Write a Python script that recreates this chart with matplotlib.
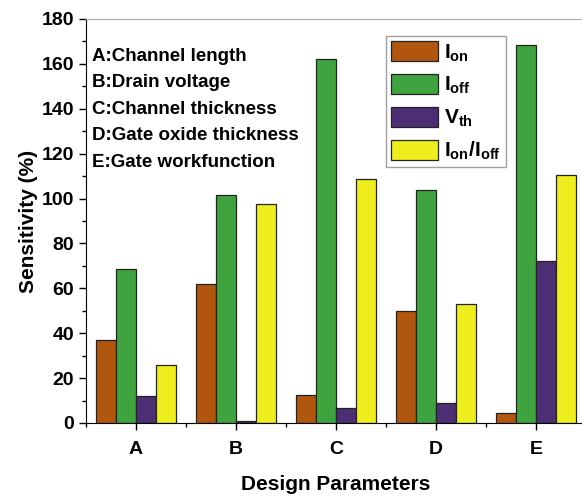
import numpy as np
import matplotlib.pyplot as plt
from matplotlib.ticker import MultipleLocator

plt.rcParams['font.family'] = 'Liberation Sans'
plt.rcParams['font.weight'] = 'bold'
plt.rcParams['mathtext.fontset'] = 'custom'
plt.rcParams['mathtext.rm'] = 'Liberation Sans:bold'
plt.rcParams['mathtext.it'] = 'Liberation Sans:bold'
plt.rcParams['mathtext.bf'] = 'Liberation Sans:bold'

categories = ['A', 'B', 'C', 'D', 'E']
i_on = [37, 62, 12.5, 50, 4.5]
i_off = [68.5, 101.5, 162, 104, 168.5]
v_th = [12, 0.8, 6.5, 9, 72]
on_off = [26, 97.5, 108.5, 53, 110.5]

series = [i_on, i_off, v_th, on_off]
labels = [r'I$_{\mathrm{on}}$', r'I$_{\mathrm{off}}$', r'V$_{\mathrm{th}}$',
          r'I$_{\mathrm{on}}$/I$_{\mathrm{off}}$']
colors = ['#b0560f', '#3fa33f', '#4d2e75', '#eeee1e']

fig = plt.figure(figsize=(5.82, 4.96), dpi=100)
ax = fig.add_axes([0.1478, 0.1472, 0.859, 0.8145])

x = np.arange(1, len(categories) + 1)
w = 0.2
for k, (vals, lab, col) in enumerate(zip(series, labels, colors)):
    ax.bar(x + (k - 1.5) * w, vals, w, color=col, edgecolor='#222222',
           linewidth=0.9, label=lab)

ax.set_xlim(0.5, 5.5)
ax.set_ylim(0, 180)
ax.set_xticks(x)
ax.set_xticklabels(categories)
ax.xaxis.set_minor_locator(MultipleLocator(0.5))
ax.yaxis.set_major_locator(MultipleLocator(20))
ax.yaxis.set_minor_locator(MultipleLocator(10))
ax.tick_params(which='major', direction='out', length=5, width=1, labelsize=14)
ax.tick_params(axis='x', which='major', pad=8)
ax.tick_params(which='minor', direction='out', length=3, width=1)
ax.spines['top'].set_color('#aaaaaa')
ax.spines['right'].set_color('#aaaaaa')

ax.set_xlabel('Design Parameters', fontsize=15, fontweight='bold', labelpad=12)
ax.set_ylabel('Sensitivity (%)', fontsize=15, fontweight='bold', labelpad=3)

notes = ['A:Channel length', 'B:Drain voltage', 'C:Channel thickness',
         'D:Gate oxide thickness', 'E:Gate workfunction']
for i, t in enumerate(notes):
    ax.text(0.012, 0.908 - i * 0.0656, t, transform=ax.transAxes,
            fontsize=13.5, fontweight='bold', va='center')

leg = ax.legend(loc='upper left', bbox_to_anchor=(0.6, 0.958), fontsize=15,
                frameon=True, fancybox=False, edgecolor='#888888',
                handlelength=2.25, handleheight=1.1, labelspacing=0.5,
                borderpad=0.25, handletextpad=0.3, borderaxespad=0)
leg.get_frame().set_linewidth(1)

plt.savefig('out.png', dpi=100)
